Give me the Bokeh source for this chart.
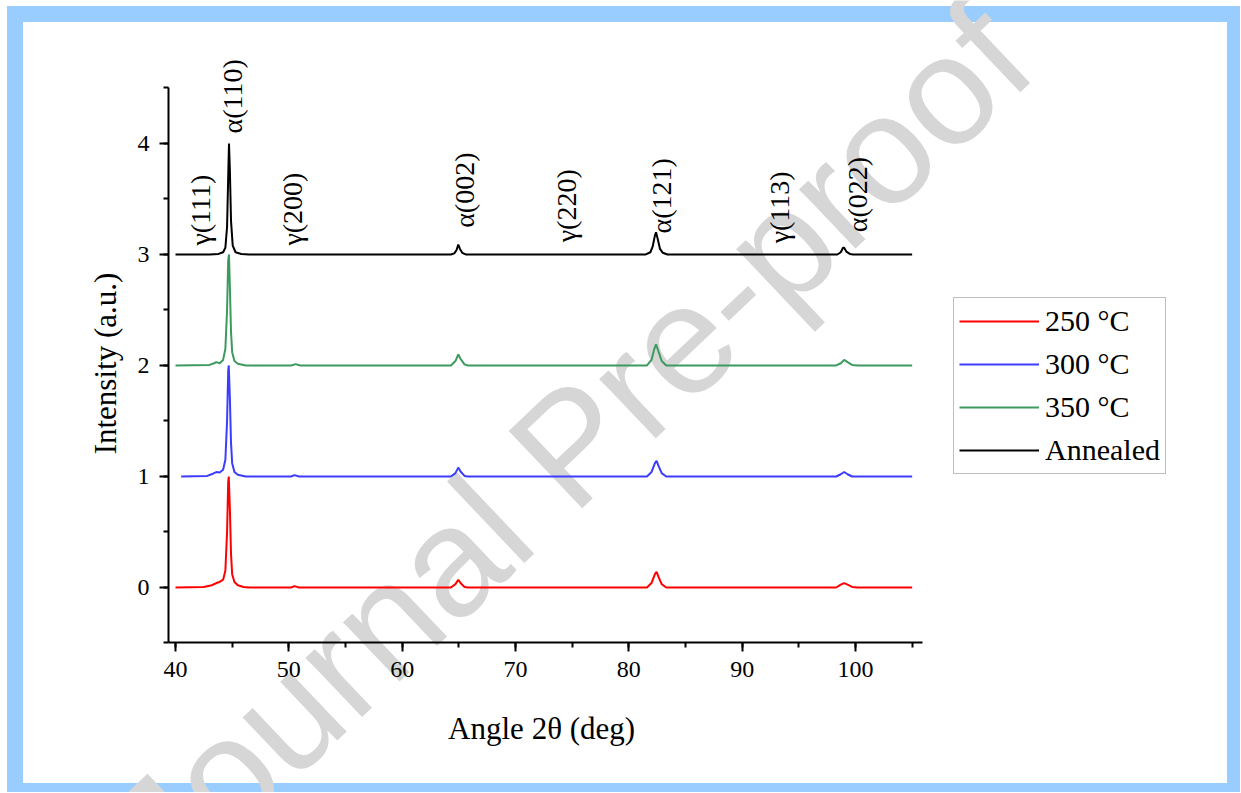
import math
from bokeh.plotting import figure
from bokeh.models import (Range1d, SingleIntervalTicker, Legend, LegendItem, Label)
from bokeh.embed import file_html
from bokeh.resources import INLINE

# ---------------- data ----------------
angle_250 = [40.0, 42.5, 43.2, 43.6, 43.9, 44.2, 44.4, 44.55, 44.65, 44.7, 44.8, 44.9, 45.0,
             45.2, 45.5, 46.0, 46.5, 50.2, 50.5, 50.9, 64.3, 64.7, 64.95, 65.15, 65.5, 65.8,
             81.6, 82.0, 82.3, 82.45, 82.6, 82.9, 83.3, 98.3, 98.7, 99.0, 99.3, 99.7, 100.2, 105.0]
int_250 = [0.0, 0.005, 0.02, 0.04, 0.05, 0.07, 0.15, 0.5, 0.95, 1.0, 0.7, 0.3, 0.12,
           0.05, 0.02, 0.005, 0.0, 0.0, 0.012, 0.0, 0.0, 0.03, 0.07, 0.04, 0.005, 0.0,
           0.0, 0.04, 0.12, 0.14, 0.1, 0.03, 0.0, 0.0, 0.025, 0.04, 0.025, 0.005, 0.0, 0.0]

angle_300 = [40.5, 42.8, 43.3, 43.6, 43.9, 44.2, 44.4, 44.55, 44.65, 44.7, 44.8, 44.9, 45.0,
             45.2, 45.5, 46.2, 50.2, 50.5, 50.9, 64.3, 64.7, 64.95, 65.15, 65.5, 65.8,
             81.6, 82.0, 82.3, 82.45, 82.6, 82.9, 83.3, 98.3, 98.7, 99.0, 99.3, 99.7, 105.0]
int_300 = [0.0, 0.005, 0.025, 0.04, 0.035, 0.06, 0.15, 0.5, 0.95, 1.0, 0.7, 0.3, 0.12,
           0.04, 0.015, 0.0, 0.0, 0.012, 0.0, 0.0, 0.03, 0.08, 0.045, 0.005, 0.0,
           0.0, 0.04, 0.12, 0.14, 0.1, 0.03, 0.0, 0.0, 0.02, 0.04, 0.02, 0.0, 0.0]

angle_350 = [40.0, 43.0, 43.4, 43.6, 43.9, 44.2, 44.4, 44.55, 44.65, 44.72, 44.8, 44.9, 45.0,
             45.2, 45.5, 46.2, 50.2, 50.6, 51.0, 64.3, 64.7, 64.95, 65.15, 65.5, 65.8,
             81.6, 82.0, 82.25, 82.4, 82.6, 82.9, 83.3, 98.3, 98.7, 99.0, 99.3, 99.7, 100.2, 105.0]
int_350 = [0.0, 0.005, 0.02, 0.03, 0.02, 0.05, 0.15, 0.5, 0.95, 1.0, 0.7, 0.3, 0.12,
           0.04, 0.015, 0.0, 0.0, 0.012, 0.0, 0.0, 0.04, 0.1, 0.06, 0.01, 0.0,
           0.0, 0.05, 0.15, 0.19, 0.13, 0.04, 0.0, 0.0, 0.02, 0.05, 0.03, 0.005, 0.0, 0.0]

angle_ann = [40.0, 43.0, 43.8, 44.2, 44.4, 44.55, 44.65, 44.72, 44.8, 44.9, 45.05, 45.3, 45.8,
             46.5, 64.3, 64.6, 64.8, 64.95, 65.1, 65.3, 65.6, 81.5, 81.9, 82.1, 82.3, 82.4,
             82.55, 82.75, 83.0, 83.4, 98.4, 98.7, 98.9, 99.0, 99.2, 99.5, 99.8, 105.0]
int_ann = [0.0, 0.0, 0.005, 0.02, 0.06, 0.25, 0.7, 1.0, 0.75, 0.3, 0.08, 0.02, 0.005,
           0.0, 0.0, 0.01, 0.04, 0.09, 0.05, 0.015, 0.0, 0.0, 0.02, 0.07, 0.17, 0.2,
           0.14, 0.05, 0.015, 0.0, 0.0, 0.02, 0.06, 0.06, 0.025, 0.005, 0.0, 0.0]

series_names = ["250 °C", "300 °C", "350 °C", "Annealed"]
series_offsets = [0, 1, 2, 3]

peak_labels = ["γ(111)", "α(110)", "γ(200)", "α(002)", "γ(220)", "α(121)", "γ(113)", "α(022)"]
peak_label_x = [42.2, 45.0, 50.3, 65.5, 74.5, 82.9, 93.3, 100.2]
peak_label_y = [3.08, 4.09, 3.08, 3.24, 3.11, 3.19, 3.10, 3.20]

x_title = "Angle  2θ (deg)"
y_title = "Intensity (a.u.)"
watermark = "Journal Pre-proof"

# ---------------- styling ----------------
colors = ["#FF0000", "#3C3CFF", "#3D9A5E", "#000000"]
SERIF = "Liberation Serif"
W, H = 1240, 792
X_MIN, X_MAX = 39.382, 105.9     # drawn extent of the x axis
Y_MIN, Y_MAX = -0.5, 4.5         # drawn extent of the y axis

# the frame covers the whole canvas; axes are pinned at the lower-left corner of the data box
p = figure(width=W, height=H, output_backend="svg", toolbar_location=None,
           x_range=Range1d(24.559, 133.97), y_range=Range1d(-1.847, 5.288),
           min_border_left=0, min_border_right=0, min_border_top=0, min_border_bottom=0)
# page background: white page with a light-blue frame (drawn behind a transparent canvas)
p.styles = {"background": "linear-gradient(#ffffff,#ffffff) 23px 22px / 1204px 761px no-repeat, "
                          "linear-gradient(#99CCFF,#99CCFF) 7px 6px / 1234px 787px no-repeat, #ffffff"}
p.border_fill_color = None
p.background_fill_color = None
p.outline_line_color = None
p.xgrid.visible = False
p.ygrid.visible = False

wm = Label(x=570, y=347, x_units="screen", y_units="screen", text=watermark,
           angle=math.radians(43.5), text_font="Liberation Sans", text_font_size="155px",
           text_color="#D6D6D6", text_align="center", text_baseline="middle",
           level="underlay")
p.add_layout(wm)

xs = [angle_250, angle_300, angle_350, angle_ann]
ys = [int_250, int_300, int_350, int_ann]
renderers = []
for x, y, off, c in zip(xs, ys, series_offsets, colors):
    r = p.line(x, [v + off for v in y], line_color=c, line_width=2)
    renderers.append(r)

for t, lx, ly in zip(peak_labels, peak_label_x, peak_label_y):
    p.add_layout(Label(x=lx, y=ly, text=t, angle=math.pi / 2, text_font=SERIF,
                       text_font_size="28px", text_color="black",
                       text_align="left", text_baseline="middle"))

# axes
p.xaxis.ticker = SingleIntervalTicker(interval=10, num_minor_ticks=2)
p.yaxis.ticker = SingleIntervalTicker(interval=1, num_minor_ticks=2)
p.xaxis.bounds = (X_MIN, X_MAX)
p.yaxis.bounds = (Y_MIN, Y_MAX)
p.xaxis.fixed_location = Y_MIN
p.yaxis.fixed_location = X_MIN
for ax in (p.xaxis[0], p.yaxis[0]):
    ax.axis_line_width = 2
    ax.axis_line_color = "black"
    ax.major_tick_line_width = 2
    ax.minor_tick_line_width = 2
    ax.major_tick_line_color = "black"
    ax.minor_tick_line_color = "black"
    ax.major_tick_in = 0
    ax.major_tick_out = 9
    ax.minor_tick_in = 0
    ax.minor_tick_out = 5
    ax.major_label_text_font = SERIF
    ax.major_label_text_font_size = "24px"
    ax.major_label_text_color = "black"
p.xaxis.major_label_standoff = 10
p.yaxis.major_label_standoff = 10

# axis titles (screen pixels from the lower-left corner of the canvas)
p.add_layout(Label(x=545, y=H - 728, x_units="screen", y_units="screen", text=x_title,
                   text_font=SERIF, text_font_size="31px", text_color="black",
                   text_align="center", text_baseline="middle"))
p.add_layout(Label(x=105, y=H - 363, x_units="screen", y_units="screen", text=y_title,
                   angle=math.pi / 2, text_font=SERIF, text_font_size="31px",
                   text_color="black", text_align="center", text_baseline="middle"))

legend = Legend(items=[LegendItem(label=n, renderers=[r]) for n, r in zip(series_names, renderers)],
                location=(953, H - 474))
legend.label_text_font = SERIF
legend.label_text_font_size = "30px"
legend.label_text_color = "black"
legend.glyph_width = 80
legend.glyph_height = 36
legend.label_height = 36
legend.label_standoff = 6
legend.spacing = 7
legend.padding = 5
legend.margin = 0
legend.border_line_color = "#808080"
legend.border_line_width = 1
legend.background_fill_color = "white"
legend.background_fill_alpha = 1.0
p.add_layout(legend)

open("out.html", "w").write(file_html(p, INLINE))
